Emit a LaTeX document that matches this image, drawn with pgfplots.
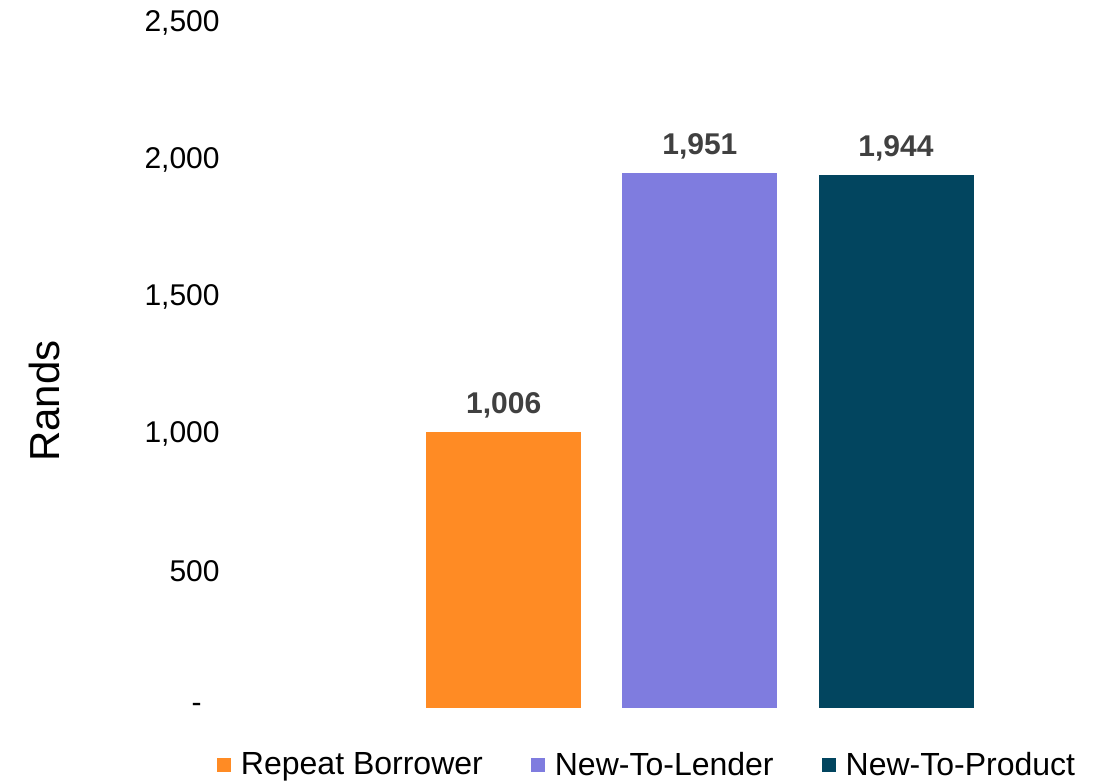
\documentclass[border=0pt]{standalone}
\usepackage{pgfplots}
\pgfplotsset{compat=1.18}
\usepackage{fontspec}
\setmainfont{Liberation Sans}
\definecolor{cOrange}{HTML}{FF8B24}
\definecolor{cPurple}{HTML}{7F7CDF}
\definecolor{cNavy}{HTML}{02455F}
\definecolor{labelgray}{HTML}{404040}
\begin{document}
\begin{tikzpicture}
\begin{axis}[
  scale only axis, width=432.5pt, height=342.5pt,
  xmin=-0.37, xmax=4.04, ymin=0, ymax=2500,
  ytick={0,500,1000,1500,2000,2500},
  yticklabels={{-\hspace{9pt}\mbox{}},500,{1,000},{1,500},{2,000},{2,500}},
  xtick=\empty,
  axis line style={draw=none}, major tick length=0pt,
  yticklabel style={font=\fontsize{15}{18}\selectfont, inner sep=0pt, xshift=-7.5pt},
  ybar, bar width=77.5pt, bar shift=0pt,
  nodes near coords,
  every node near coord/.append style={font=\bfseries\fontsize{15}{18}\selectfont, color=labelgray, anchor=base, inner sep=0pt, yshift=9.5pt},
  /pgf/number format/1000 sep={,},
  /pgf/number format/assume math mode=true,
  legend style={at={(0.4775,-0.0832)}, anchor=center, draw=none, fill=none, legend columns=3,
    font=\fontsize{16}{19}\selectfont,
    /tikz/every odd column/.append style={column sep=3pt},
    /tikz/every even column/.append style={column sep=22pt}},
  legend image code/.code={\fill[#1] (0pt,-3.5pt) rectangle (7pt,3.5pt);},
]
\addplot[fill=cOrange, draw=none] coordinates {(1,1006)};
\addplot[fill=cPurple, draw=none] coordinates {(2,1951)};
\addplot[fill=cNavy, draw=none] coordinates {(3,1944)};
\legend{Repeat Borrower, New-To-Lender, New-To-Product}
\end{axis}
\path (current axis.south west) ++(-87.5pt,153.4pt) node[rotate=90,anchor=south,inner sep=0pt,font=\fontsize{21}{25}\selectfont]{Rands};
\pgfresetboundingbox
\path ([xshift=-117.5pt,yshift=-37pt]current axis.south west) rectangle ([xshift=2pt,yshift=11.5pt]current axis.north east);
\end{tikzpicture}
\end{document}
